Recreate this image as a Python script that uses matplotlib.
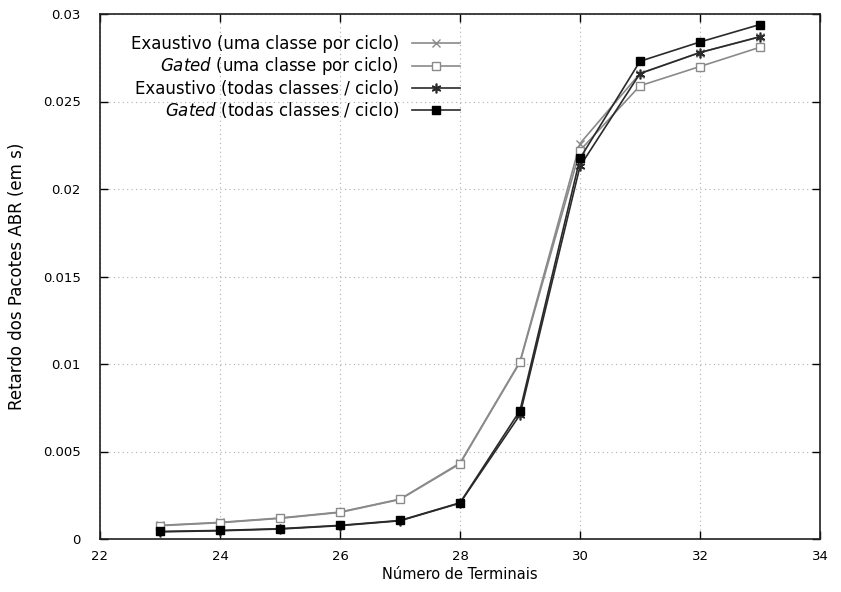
import matplotlib
matplotlib.use("Agg")
import matplotlib.pyplot as plt

plt.rcParams['font.family'] = ['DejaVu Sans']
plt.rcParams['mathtext.fontset'] = 'custom'
plt.rcParams['mathtext.it'] = 'DejaVu Sans:italic'
plt.rcParams['mathtext.rm'] = 'DejaVu Sans'

# terminais simulados
terminais = [23, 24, 25, 26, 27, 28, 29, 30, 31, 32, 33]

# retardo medio dos pacotes ABR (s)
exaustivo_uma = [0.00078, 0.00095, 0.00120, 0.00154, 0.00228, 0.00434, 0.01014, 0.02260, 0.02660, 0.02780, 0.02870]
gated_uma = [0.00076, 0.00093, 0.00118, 0.00152, 0.00226, 0.00430, 0.01010, 0.02220, 0.02590, 0.02700, 0.02810]
exaustivo_todas = [0.00041, 0.00047, 0.00057, 0.00076, 0.00104, 0.00205, 0.00710, 0.02130, 0.02660, 0.02780, 0.02870]
gated_todas = [0.00043, 0.00049, 0.00059, 0.00078, 0.00106, 0.00207, 0.00734, 0.02175, 0.02730, 0.02840, 0.02940]

labels = [
    "Exaustivo (uma classe por ciclo)",
    r"$\it{Gated}$ (uma classe por ciclo)",
    "Exaustivo (todas classes / ciclo)",
    r"$\it{Gated}$ (todas classes / ciclo)",
]

fig = plt.figure(figsize=(8.41, 5.92), dpi=100)
ax = fig.add_axes([100 / 841, 53 / 592, 720 / 841, 525 / 592])

cinza = '#8a8a8a'
escuro = '#2a2a2a'
ax.plot(terminais, exaustivo_uma, color=cinza, lw=1.2, marker='x', ms=6, mew=1.0, label=labels[0])
ax.plot(terminais, gated_uma, color=cinza, lw=1.2, marker='s', ms=5.5, mfc='white', mec=cinza, mew=1.0, label=labels[1])
ax.plot(terminais, exaustivo_todas, color=escuro, lw=1.2, marker=(6, 2, 0), ms=7, mew=1.2, label=labels[2])
ax.plot(terminais, gated_todas, color=escuro, lw=1.2, marker='s', ms=6, mfc='black', mec='black', label=labels[3])

ax.set_xlim(22, 34)
ax.set_ylim(0, 0.03)
ax.set_xticks(range(22, 35, 2))
ax.set_yticks([0, 0.005, 0.01, 0.015, 0.02, 0.025, 0.03])
ax.set_yticklabels(['0', '0.005', '0.01', '0.015', '0.02', '0.025', '0.03'])
ax.tick_params(direction='in', length=6, width=1, top=True, right=True, labelsize=9.5)
ax.tick_params(axis='y', pad=14)
ax.tick_params(axis='x', pad=8)
ax.grid(True, color='#b0b0b0', ls=(0, (1, 3)), lw=0.8)
for s in ax.spines.values():
    s.set_linewidth(1.2)
    s.set_color('#202020')

ax.set_xlabel("Número de Terminais", fontsize=10.5, labelpad=3)
ax.set_ylabel("Retardo dos Pacotes ABR (em s)", fontsize=12, labelpad=12)

leg = ax.legend(loc='upper right', bbox_to_anchor=(0.5, 0.960), markerfirst=False, frameon=False,
                fontsize=12, handlelength=2.9, handletextpad=0.75, labelspacing=0.14,
                borderaxespad=0, borderpad=0)
# alinha os textos pela direita, como no gnuplot
for col in leg._legend_handle_box.get_children():
    col.align = 'right'

fig.savefig('out.png', dpi=100)
